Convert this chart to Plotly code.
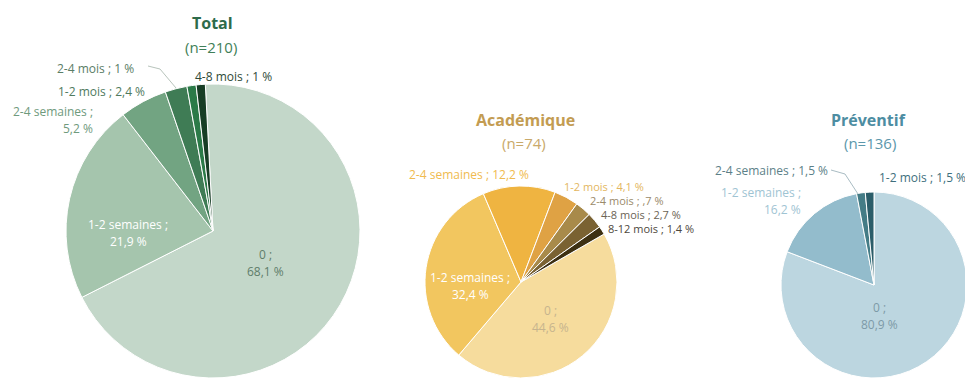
import plotly.graph_objects as go

# page is 973x378; the HTML body has an 8px default margin, so the figure is 965x370
PAGE_OFF = 8
W, H = 973 - PAGE_OFF, 378 - PAGE_OFF

# ---------------- data ----------------
total_title = "Total"
total_n = 210
total_categories = ["0", "1-2 semaines", "2-4 semaines", "1-2 mois", "2-4 mois", "4-8 mois"]
total_values = [68.1, 21.9, 5.2, 2.4, 1.0, 1.0]
total_value_text = ["68,1", "21,9", "5,2", "2,4", "1", "1"]

acad_title = "Académique"
acad_n = 74
acad_categories = ["0", "1-2 semaines", "2-4 semaines", "1-2 mois", "2-4 mois", "4-8 mois", "8-12 mois"]
acad_values = [44.6, 32.4, 12.2, 4.1, 2.7, 2.7, 1.4]
acad_value_text = ["44,6", "32,4", "12,2", "4,1", ",7", "2,7", "1,4"]

prev_title = "Préventif"
prev_n = 136
prev_categories = ["0", "1-2 semaines", "2-4 semaines", "1-2 mois"]
prev_values = [80.9, 16.2, 1.5, 1.5]
prev_value_text = ["80,9", "16,2", "1,5", "1,5"]

# ---------------- styles ----------------
FONT = "Open Sans"
total_colors = ["#c3d7c9", "#a5c5ad", "#72a482", "#3f7c55", "#2b7a48", "#173d25"]
acad_colors = ["#f6dc9d", "#f2c65f", "#efb441", "#dfa244", "#a88a4a", "#7a6232", "#3d3012"]
prev_colors = ["#bcd6e0", "#93bccc", "#447c86", "#2b5d69"]


def X(px):
    return (px - PAGE_OFF) / W


def Y(py):
    return 1 - (py - PAGE_OFF) / H


# label spec: (mode, x, y, anchor, colour, font size)
charts = [
    dict(title=total_title, n=total_n, cats=total_categories, vals=total_values,
         txt=total_value_text, colors=total_colors, rotation=-3,
         domain_px=(66, 84, 360, 378),
         title_pos=(212, 23), n_pos=(211, 47), title_color="#2e6b4b", n_color="#3f7f58",
         labels=[
             ("two", 265, 254, "center", "#5f7d69", 12),
             ("two", 128, 224, "center", "#ffffff", 12),
             ("two", 94, 111, "right", "#6f9a7d", 12),
             ("one", 146, 91, "right", "#4f7a5e", 12),
             ("one", 135, 69, "right", "#5a7d66", 12),
             ("one", 194, 76, "left", "#2f4a38", 12),
         ]),
    dict(title=acad_title, n=acad_n, cats=acad_categories, vals=acad_values,
         txt=acad_value_text, colors=acad_colors, rotation=60,
         domain_px=(425, 186, 617, 378),
         title_pos=(525, 120), n_pos=(524, 143), title_color="#c39c52", n_color="#c9a96a",
         labels=[
             ("two", 550, 310, "center", "#c6b48e", 12),
             ("two", 470, 277, "center", "#ffffff", 12),
             ("one", 530, 174, "right", "#f0bb4f", 12),
             ("one", 563, 186, "left", "#e3b65e", 11),
             ("one", 589, 200, "left", "#9a8a6a", 11),
             ("one", 600, 214, "left", "#6b6355", 11),
             ("one", 607, 228, "left", "#4e473c", 11),
         ]),
    dict(title=prev_title, n=prev_n, cats=prev_categories, vals=prev_values,
         txt=prev_value_text, colors=prev_colors, rotation=0,
         domain_px=(781, 192, 967, 378),
         title_pos=(868, 120), n_pos=(870, 143), title_color="#4d8da2", n_color="#5b97ab",
         labels=[
             ("two", 879, 307, "center", "#7c9aa7", 12),
             ("two", 802, 192, "right", "#9fc4d3", 12),
             ("one", 829, 171, "right", "#5c7f88", 12),
             ("one", 878, 177, "left", "#3e6f7d", 12),
         ]),
]

LINE_GAP = 17

fig = go.Figure()
annotations = []

for ch in charts:
    x0, y0, x1, y1 = ch["domain_px"]
    fig.add_trace(go.Pie(
        labels=ch["cats"], values=ch["vals"], sort=False, direction="clockwise",
        rotation=ch["rotation"], textinfo="none", hoverinfo="label+percent",
        marker=dict(colors=ch["colors"], line=dict(color="white", width=1)),
        domain=dict(x=[X(x0), min(1, X(x1))], y=[max(0, Y(y1)), Y(y0)]),
        showlegend=False,
    ))
    tx, ty = ch["title_pos"]
    annotations.append(dict(text=f"<b>{ch['title']}</b>", x=X(tx), y=Y(ty),
                            font=dict(family=FONT, size=16, color=ch["title_color"])))
    nx, ny = ch["n_pos"]
    annotations.append(dict(text=f"(n={ch['n']})", x=X(nx), y=Y(ny),
                            font=dict(family=FONT, size=15, color=ch["n_color"])))
    for cat, vt, (mode, lx, ly, anchor, col, fs) in zip(ch["cats"], ch["txt"], ch["labels"]):
        font = dict(family=FONT, size=fs, color=col)
        if mode == "one":
            annotations.append(dict(text=f"{cat} ; {vt} %", x=X(lx), y=Y(ly),
                                    xanchor=anchor, font=font))
        else:
            annotations.append(dict(text=f"{cat} ;", x=X(lx), y=Y(ly),
                                    xanchor=anchor, font=font))
            annotations.append(dict(text=f"{vt} %", x=X(lx), y=Y(ly + LINE_GAP),
                                    xanchor=anchor, font=font))

for a in annotations:
    a.update(xref="paper", yref="paper", showarrow=False, yanchor="middle", borderpad=0)
    a.setdefault("xanchor", "center")

# leader lines
leaders = [
    ([148, 160, 176], [66, 69, 88], "#b8c4bc"),
    ([831, 845, 858], [170, 174, 194], "#a9bcc3"),
]
shapes = []
for xs, ys, col in leaders:
    for i in range(len(xs) - 1):
        shapes.append(dict(type="line", xref="paper", yref="paper",
                           x0=X(xs[i]), y0=Y(ys[i]), x1=X(xs[i + 1]), y1=Y(ys[i + 1]),
                           line=dict(color=col, width=1)))

fig.update_layout(
    width=W, height=H,
    margin=dict(l=0, r=0, t=0, b=0),
    paper_bgcolor="white", plot_bgcolor="white",
    annotations=annotations, shapes=shapes,
    font=dict(family=FONT),
)

fig.write_html("out.html")
